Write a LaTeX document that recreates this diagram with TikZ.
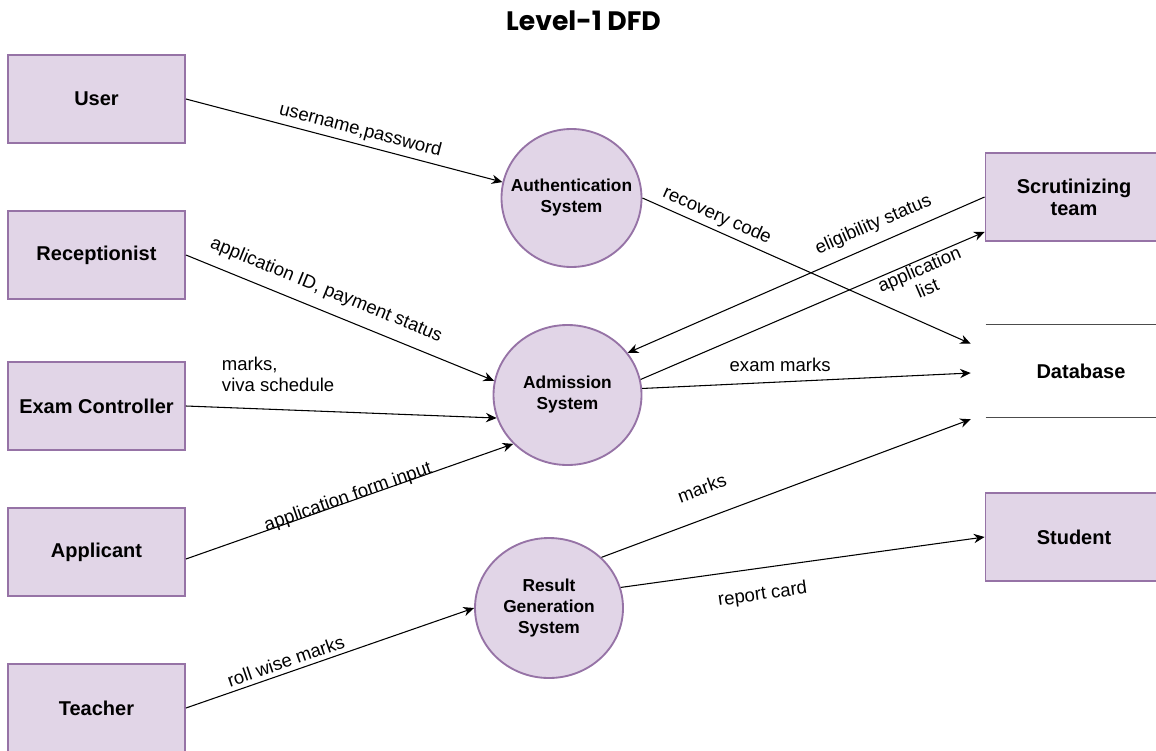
\documentclass[tikz,border=0pt]{standalone}
\usepackage{fontspec}
\setmainfont{Liberation Sans}
\newfontfamily\titlefont{Poppins}
\usetikzlibrary{positioning,shapes.geometric,arrows.meta,calc}
\definecolor{boxfill}{HTML}{E1D5E7}
\definecolor{boxline}{HTML}{9673A6}
\begin{document}
\begin{tikzpicture}[x=0.75pt, y=-0.75pt, node distance=117pt, >={Stealth[length=8pt,width=7pt]},
  every node/.style={font=\fontsize{13.9}{15.5}\selectfont},
  entity/.style={draw=boxline, fill=boxfill, line width=1.4pt, minimum width=132.75pt, minimum height=66pt, align=center, font=\fontsize{15}{16.5}\selectfont\bfseries},
  process/.style={ellipse, draw=boxline, fill=boxfill, line width=1.4pt, minimum width=111pt, minimum height=105pt, inner sep=0pt, align=center, font=\fontsize{13}{15.75}\selectfont\bfseries},
  store/.style={minimum width=130.5pt, minimum height=69pt, font=\fontsize{15}{16.5}\selectfont\bfseries},
  dbline/.style={draw=black!70, line width=1.1pt},
  flow/.style={line width=0.8pt}]
\useasboundingbox (0,0) rectangle (1156,750);
\node (title) at (583.5,21) [font=\titlefont\bfseries\fontsize{20}{24}\selectfont] {Level-1 DFD};
\node (user) [entity] at (96.5,99) {User};
\node (rec) [entity, below of=user] {Receptionist};
\node (exam) [entity, below of=rec, yshift=3.75pt] {Exam Controller};
\node (appl) [entity, below of=exam, yshift=7.5pt] {Applicant};
\node (teacher) [entity, below of=appl] {Teacher};
\node (auth) [process, minimum width=105pt, minimum height=103.5pt, inner xsep=-10pt] at (571.5,198) {Authentication\\System};
\node (adm) [process] at (567.5,395) {Admission\\System};
\node (res) [process] at (549,608) {Result\\Generation\\System};
\node (scrut) [entity] at (1074,197) {Scrutinizing\\team};
\node (db) [store] at (1073,371) {\hspace*{12pt}Database};
\node (student) [entity] at (1074,537) {Student};
\draw[dbline] (db.north west) -- (db.north east);
\draw[dbline] (db.south west) -- (db.south east);
\draw[flow, ->] (user.east) -- node[sloped, above, pos=0.54] {username,password} (auth.167);
\draw[flow, ->] (rec.east) -- node[sloped, above=5pt, pos=0.43] {application ID, payment status} (adm.169);
\draw[flow, ->] (exam.east) -- node[pos=0.1, anchor=south west, yshift=8pt, align=left] {marks,\\viva schedule} (adm.198);
\draw[flow, ->] ([yshift=-5.25pt]appl.east) -- node[sloped, above=-7pt, pos=0.5] {application form input} (adm.222);
\draw[flow, ->] (teacher.east) -- node[sloped, above, pos=0.36] {roll wise marks} (res.180);
\draw[flow, ->] (auth.0) -- node[sloped, above, pos=0.21] {recovery code} ($(db.north west)+(-15,19)$);
\draw[flow, <-] (adm.35) -- node[sloped, above=4pt, pos=0.71] {eligibility status} (scrut.west);
\draw[flow, ->] (adm.12) -- node[sloped, below=-2.5pt, pos=0.8, align=center] {application\\list} ($(scrut.south west)+(0,-10)$);
\draw[flow, ->] (adm.5) -- node[above=4pt, pos=0.42] {exam marks} ($(db.west)+(-15,2)$);
\draw[flow, ->] (res.44) -- node[sloped, above=13.5pt, pos=0.3] {marks} ($(db.south west)+(-15,2)$);
\draw[flow, ->] (res.16.5) -- node[sloped, below=10pt, pos=0.38] {report card} (student.west);
\end{tikzpicture}
\end{document}
